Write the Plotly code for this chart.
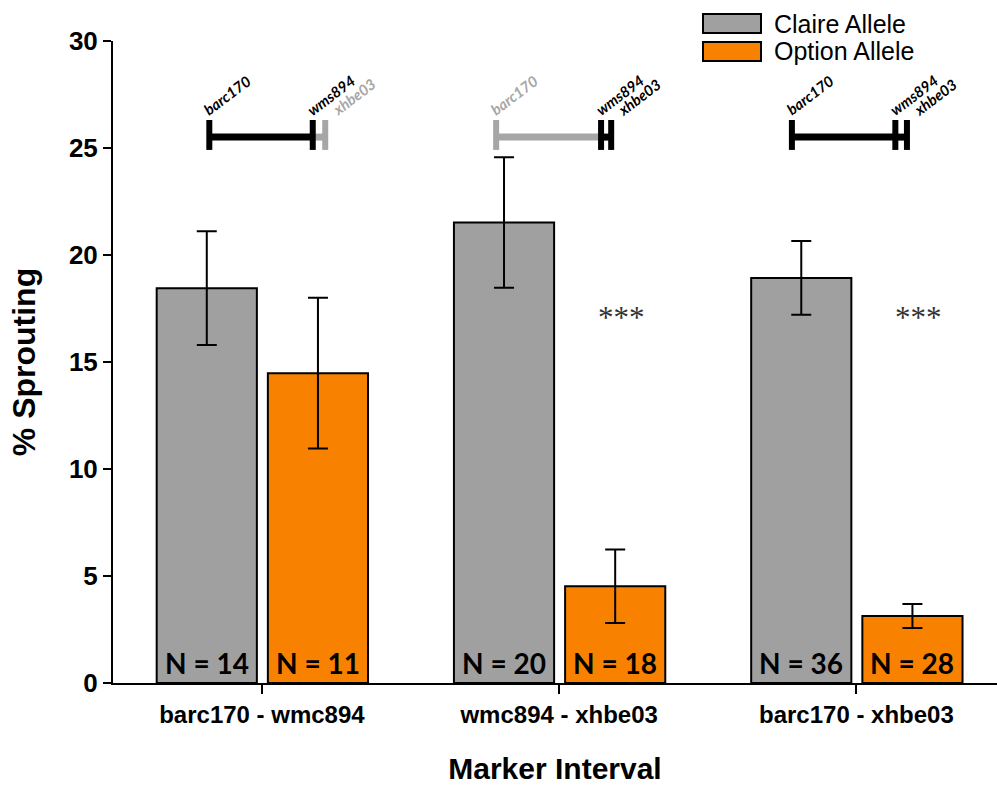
import plotly.graph_objects as go

# ---------------- data ----------------
intervals = ["barc170 - wmc894", "wmc894 - xhbe03", "barc170 - xhbe03"]
claire_mean = [18.45, 21.52, 18.93]
claire_err = [2.66, 3.05, 1.72]
option_mean = [14.48, 4.52, 3.13]
option_err = [3.52, 1.72, 0.56]
claire_n = [14, 20, 36]
option_n = [11, 18, 28]
significance = ["", "***", "***"]
markers = ["barc170", "wms894", "xhbe03"]
# which markers / segments are shown in black (True) or grey (False) per interval
marker_black = [[True, True, False], [False, True, True], [True, True, True]]
segment_black = [[True, False], [False, True], [True, True]]

# ---------------- styling / layout constants ----------------
GRAY = "#a0a0a0"
ORANGE = "#f88200"
DIAG_GRAY = "#a6a6a6"
BAR_W = 0.337
OFF_L = -0.354
OFF_R = 0.020
# marker positions of the small map diagrams (offset from group centre, x units)
MAP_OFFSETS = [[-0.177, 0.171, 0.213], [-0.212, 0.141, 0.175], [-0.217, 0.131, 0.170]]
LABEL_XSHIFT = [-12, -12, 0]

idx = list(range(len(intervals)))

fig = go.Figure()
fig.add_trace(go.Bar(
    x=idx, y=claire_mean, name="Claire Allele", width=BAR_W, offset=OFF_L,
    marker=dict(color=GRAY, line=dict(color="black", width=2)),
    error_y=dict(type="data", array=claire_err, color="black", thickness=2, width=10),
    showlegend=False,
))
fig.add_trace(go.Bar(
    x=idx, y=option_mean, name="Option Allele", width=BAR_W, offset=OFF_R,
    marker=dict(color=ORANGE, line=dict(color="black", width=2)),
    error_y=dict(type="data", array=option_err, color="black", thickness=2, width=10),
    showlegend=False,
))

ann = []
shapes = []
NFONT = dict(family="Lato", size=28, color="black", weight="bold")
for i in idx:
    ann.append(dict(x=i + OFF_L + BAR_W / 2, y=0, text=f"N = {claire_n[i]}", showarrow=False,
                    xanchor="center", yanchor="bottom", yshift=1, font=NFONT))
    ann.append(dict(x=i + OFF_R + BAR_W / 2, y=0, text=f"N = {option_n[i]}", showarrow=False,
                    xanchor="center", yanchor="bottom", yshift=1, font=NFONT))
    if significance[i]:
        ann.append(dict(x=i + OFF_R + BAR_W / 2 + 0.02, y=17.1, text=significance[i], showarrow=False,
                        xanchor="center", yanchor="middle",
                        font=dict(family="Liberation Serif", size=31, color="#333333")))

    # map diagram
    pos = [i + o for o in MAP_OFFSETS[i]]
    for s in range(2):
        shapes.append(dict(type="line", xref="x", yref="y", x0=pos[s], x1=pos[s + 1], y0=25.51, y1=25.51,
                           line=dict(color="black" if segment_black[i][s] else DIAG_GRAY, width=7)))
    for m in range(3):
        col = "black" if marker_black[i][m] else DIAG_GRAY
        shapes.append(dict(type="line", xref="x", yref="y", x0=pos[m], x1=pos[m], y0=24.91, y1=26.31,
                           line=dict(color=col, width=6)))
        ann.append(dict(x=pos[m], y=26.25, text=markers[m], showarrow=False, textangle=-37,
                        xanchor="left", yanchor="bottom", xshift=LABEL_XSHIFT[m],
                        font=dict(family="Lato", size=15, color=col, weight="bold", style="italic")))

# manual legend
PW, PH = 884.0, 642.0
def px_x(p):
    return (p - 113) / PW
def px_y(p):
    return (683 - p) / PH

legend_items = [("Claire Allele", GRAY, 14, 33), ("Option Allele", ORANGE, 42, 61)]
for name, col, top, bot in legend_items:
    shapes.append(dict(type="rect", xref="paper", yref="paper", x0=px_x(703), x1=px_x(761),
                       y0=px_y(bot), y1=px_y(top), fillcolor=col, line=dict(color="black", width=2)))
    ann.append(dict(xref="paper", yref="paper", x=px_x(772), y=px_y((top + bot) / 2), text=name,
                    showarrow=False, xanchor="left", yanchor="middle",
                    font=dict(family="Liberation Sans", size=25, color="black")))

fig.update_layout(
    width=997, height=785, autosize=False,
    margin=dict(l=113, r=0, t=41, b=102),
    plot_bgcolor="white", paper_bgcolor="white",
    barmode="overlay",
    annotations=ann, shapes=shapes,
    font=dict(family="Liberation Sans", color="black"),
)
fig.update_xaxes(
    range=[-0.501, 2.473], tickmode="array", tickvals=idx, ticktext=intervals,
    showline=True, linecolor="black", linewidth=2, ticks="outside", ticklen=9, tickwidth=2,
    tickcolor="black", showgrid=False, zeroline=False,
    tickfont=dict(family="Liberation Sans", size=24, weight="bold", color="black"),
    title=dict(text="Marker Interval", standoff=38,
               font=dict(family="Liberation Sans", size=30, weight="bold", color="black")),
    automargin=False,
)
fig.update_yaxes(
    range=[0, 30], tickmode="linear", tick0=0, dtick=5,
    showline=True, linecolor="black", linewidth=2, ticks="outside", ticklen=8, tickwidth=2,
    tickcolor="black", showgrid=False, zeroline=False,
    tickfont=dict(family="Liberation Sans", size=26, weight="bold", color="black"),
    title=dict(text="% Sprouting", standoff=24,
               font=dict(family="Liberation Sans", size=32, weight="bold", color="black")),
    automargin=False,
)

fig.write_html("out.html")
